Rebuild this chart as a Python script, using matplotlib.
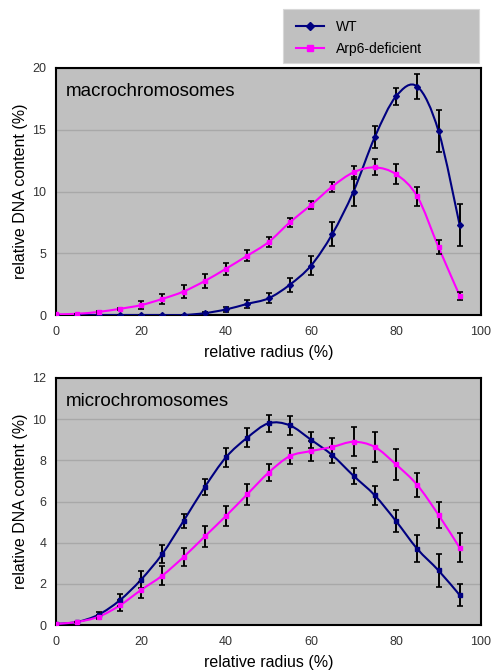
import numpy as np
import matplotlib
matplotlib.use('Agg')
import matplotlib.pyplot as plt
from matplotlib.path import Path
from matplotlib.patches import PathPatch, Rectangle
from matplotlib.lines import Line2D

plt.rcParams['font.family'] = ['Liberation Sans', 'DejaVu Sans']

# ── Data ──────────────────────────────────────────────────────────────────────
radius = np.arange(0, 100, 5)

macro_wt = [0.0, 0.0, 0.0, 0.0, 0.0, 0.0, 0.0, 0.15, 0.45, 0.9,
            1.35, 2.45, 4.0, 6.55, 10.0, 14.4, 17.7, 18.5, 14.9, 7.25]
macro_wt_err = [0, 0, 0, 0, 0, 0, 0, 0.1, 0.2, 0.3,
                0.4, 0.55, 0.8, 0.95, 1.2, 0.9, 0.7, 1.0, 1.7, 1.7]
macro_arp = [0.05, 0.1, 0.25, 0.5, 0.8, 1.3, 1.9, 2.75, 3.75, 4.8,
             5.9, 7.5, 8.9, 10.4, 11.55, 11.95, 11.4, 9.6, 5.5, 1.55]
macro_arp_err = [0, 0, 0.05, 0.1, 0.3, 0.4, 0.5, 0.6, 0.5, 0.45,
                 0.4, 0.35, 0.35, 0.4, 0.5, 0.65, 0.8, 0.8, 0.6, 0.3]

micro_wt = [0.05, 0.15, 0.5, 1.2, 2.2, 3.45, 5.05, 6.7, 8.15, 9.1,
            9.8, 9.7, 9.0, 8.25, 7.25, 6.3, 5.05, 3.7, 2.65, 1.45]
micro_wt_err = [0, 0, 0.15, 0.3, 0.4, 0.45, 0.35, 0.4, 0.45, 0.45,
                0.4, 0.45, 0.4, 0.4, 0.4, 0.45, 0.55, 0.65, 0.8, 0.55]
micro_arp = [0.05, 0.15, 0.4, 0.95, 1.7, 2.4, 3.3, 4.3, 5.3, 6.35,
             7.4, 8.2, 8.45, 8.65, 8.9, 8.65, 7.8, 6.8, 5.35, 3.75]
micro_arp_err = [0, 0, 0.1, 0.25, 0.4, 0.45, 0.45, 0.5, 0.5, 0.5,
                 0.4, 0.4, 0.5, 0.45, 0.7, 0.75, 0.75, 0.6, 0.65, 0.7]

WT_COL = '#000080'
ARP_COL = '#FF00FF'


# Excel-style smoothed line: cubic Bezier through the points (Catmull-Rom)
def smooth_path(x, y):
    pts = np.column_stack([x, y]).astype(float)
    verts = [pts[0]]
    codes = [Path.MOVETO]
    n = len(pts)
    for i in range(n - 1):
        p0 = pts[max(i - 1, 0)]
        p1 = pts[i]
        p2 = pts[i + 1]
        p3 = pts[min(i + 2, n - 1)]
        c1 = p1 + (p2 - p0) / 6.0
        c2 = p2 - (p3 - p1) / 6.0
        verts += [c1, c2, p2]
        codes += [Path.CURVE4] * 3
    return Path(verts, codes)


def draw_series(ax, x, y, err, color, marker, ms):
    ax.add_patch(PathPatch(smooth_path(x, y), facecolor='none',
                           edgecolor=color, lw=1.5, zorder=3))
    ax.errorbar(x, y, yerr=err, fmt='none', ecolor='black',
                elinewidth=1.4, capsize=2.5, capthick=1.2, zorder=4)
    ax.plot(x, y, ls='none', marker=marker, ms=ms, color=color,
            mec=color, zorder=5)


def style_axes(ax, ymax, ystep, title):
    ax.set_facecolor('#C0C0C0')
    ax.set_xlim(0, 100)
    ax.set_ylim(0, ymax)
    ax.set_xticks(np.arange(0, 101, 20))
    ax.set_yticks(np.arange(0, ymax + 0.1, ystep))
    ax.yaxis.grid(True, color='#A8A8A8', lw=1.0)
    ax.set_axisbelow(True)
    for s in ax.spines.values():
        s.set_color('black')
        s.set_linewidth(1.5)
    ax.tick_params(length=0, labelsize=9, labelcolor='#333333')
    ax.tick_params(axis='x', pad=8)
    ax.tick_params(axis='y', pad=7)
    ax.set_xlabel('relative radius (%)', fontsize=11.5, labelpad=5)
    ax.set_ylabel('relative DNA content (%)', fontsize=11.5, labelpad=3)
    ax.text(0.024, 0.94, title, transform=ax.transAxes, fontsize=13.5,
            va='top', ha='left')


fig = plt.figure(figsize=(4.91, 6.72), dpi=100)
ax1 = fig.add_axes([56 / 491, 1 - 315 / 672, 425 / 491, 247 / 672])
ax2 = fig.add_axes([56 / 491, 1 - 625 / 672, 425 / 491, 247 / 672])

style_axes(ax1, 20, 5, 'macrochromosomes')
draw_series(ax1, radius, macro_wt, macro_wt_err, WT_COL, 'D', 3)
draw_series(ax1, radius, macro_arp, macro_arp_err, ARP_COL, 's', 3.5)

style_axes(ax2, 12, 2, 'microchromosomes')
draw_series(ax2, radius, micro_wt, micro_wt_err, WT_COL, 's', 3.5)
draw_series(ax2, radius, micro_arp, micro_arp_err, ARP_COL, 's', 3.5)

# ── Legend box (gray, no frame) ───────────────────────────────────────────────
fig.patches.append(Rectangle((283 / 491, 1 - 63 / 672), 196 / 491, 54 / 672,
                             transform=fig.transFigure, facecolor='#C0C0C0',
                             edgecolor='#D8D8D8', lw=0.8, zorder=0))
handles = [Line2D([], [], color=WT_COL, lw=1.5, marker='D', ms=4),
           Line2D([], [], color=ARP_COL, lw=1.5, marker='s', ms=5)]
fig.legend(handles, ['WT', 'Arp6-deficient'], loc='upper left',
           bbox_to_anchor=(285 / 491, 1 - 9 / 672), frameon=False,
           fontsize=10, handlelength=2.0, labelspacing=0.55, borderpad=0.3,
           handletextpad=0.9)

fig.savefig('out.png', dpi=100)
